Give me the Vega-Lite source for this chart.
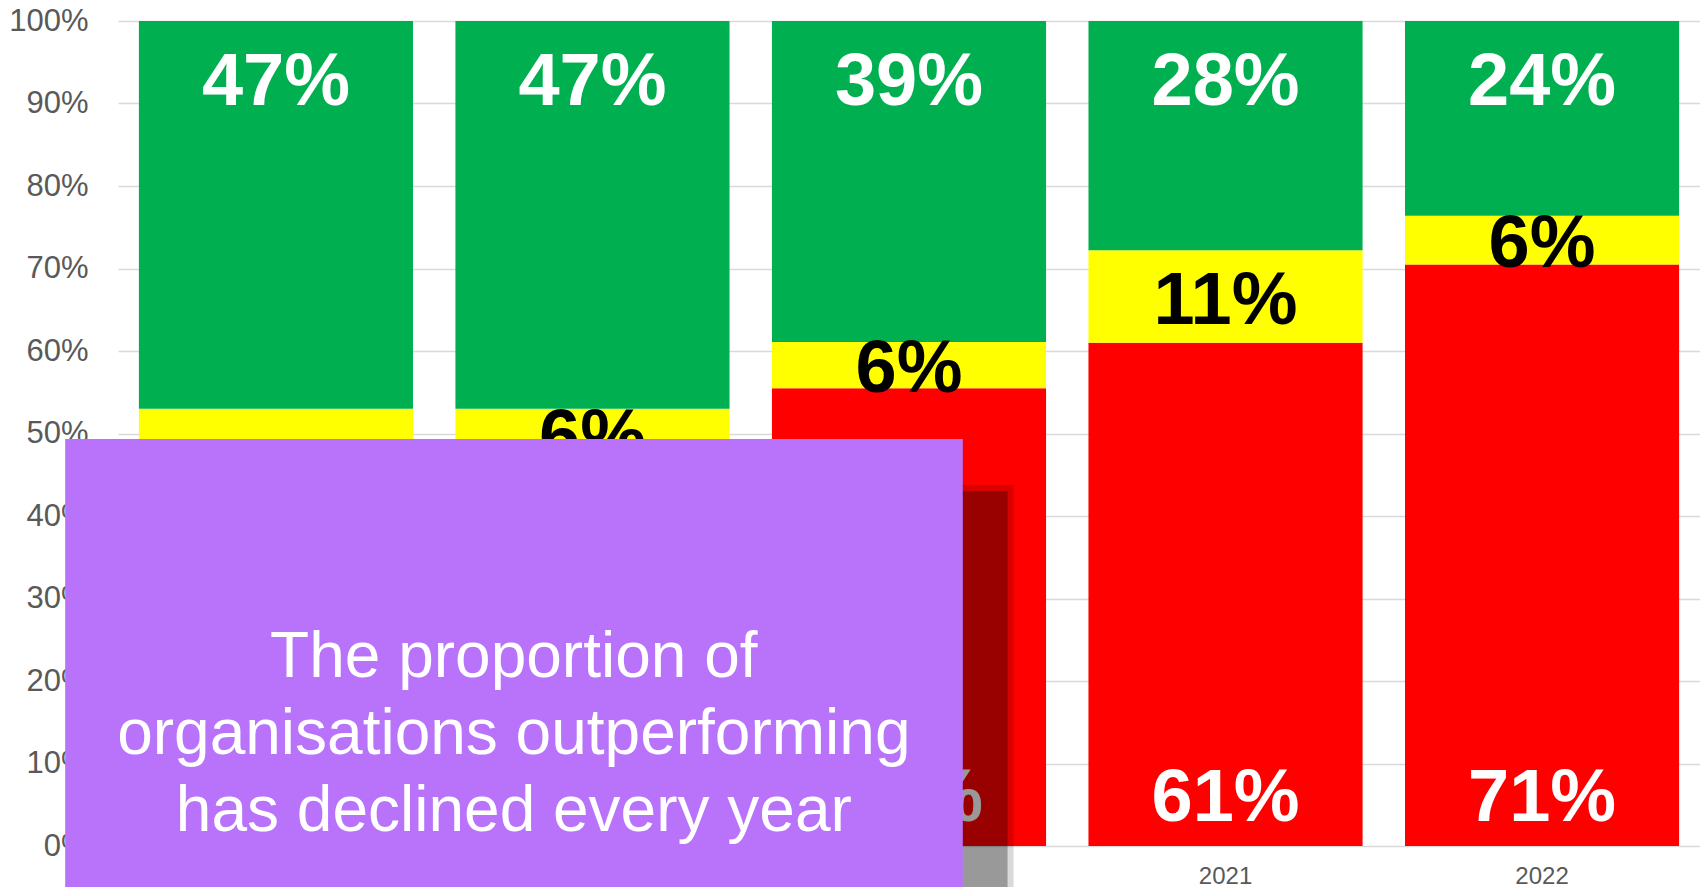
{
  "$schema": "https://vega.github.io/schema/vega-lite/v6.json",
  "autosize": {"type": "none"},
  "padding": {"left": 118, "top": 21, "right": 0, "bottom": 41},
  "width": 1582,
  "height": 825,
  "background": "white",
  "config": {
    "font": "Liberation Sans",
    "view": {"stroke": null}
  },
  "resolve": {"scale": {"x": "independent", "y": "independent"}, "axis": {"x": "independent", "y": "independent"}},
  "layer": [
    {
      "data": {
        "values": [
          {"year": "2018", "status": "Red", "order": 1, "value": 0.39, "label": "39%"},
          {"year": "2018", "status": "Yellow", "order": 2, "value": 0.14, "label": "14%"},
          {"year": "2018", "status": "Green", "order": 3, "value": 0.47, "label": "47%"},
          {"year": "2019", "status": "Red", "order": 1, "value": 0.47, "label": "47%"},
          {"year": "2019", "status": "Yellow", "order": 2, "value": 0.06, "label": "6%"},
          {"year": "2019", "status": "Green", "order": 3, "value": 0.47, "label": "47%"},
          {"year": "2020", "status": "Red", "order": 1, "value": 0.555, "label": "55%"},
          {"year": "2020", "status": "Yellow", "order": 2, "value": 0.056, "label": "6%"},
          {"year": "2020", "status": "Green", "order": 3, "value": 0.389, "label": "39%"},
          {"year": "2021", "status": "Red", "order": 1, "value": 0.61, "label": "61%"},
          {"year": "2021", "status": "Yellow", "order": 2, "value": 0.112, "label": "11%"},
          {"year": "2021", "status": "Green", "order": 3, "value": 0.278, "label": "28%"},
          {"year": "2022", "status": "Red", "order": 1, "value": 0.705, "label": "71%"},
          {"year": "2022", "status": "Yellow", "order": 2, "value": 0.059, "label": "6%"},
          {"year": "2022", "status": "Green", "order": 3, "value": 0.236, "label": "24%"}
        ]
      },
      "transform": [
        {"stack": "value", "groupby": ["year"], "sort": [{"field": "order", "order": "ascending"}], "as": ["v0", "v1"], "offset": "zero"}
      ],
      "encoding": {
        "x": {
          "field": "year", "type": "ordinal",
          "scale": {"paddingInner": 0.134, "paddingOuter": 0.066},
          "axis": {"title": null, "labelAngle": 0, "ticks": false, "domain": false, "grid": false,
                   "labelFontSize": 24, "labelColor": "#595959", "labelFont": "Liberation Sans", "labelPadding": 18}
        },
        "y": {
          "field": "v0", "type": "quantitative",
          "scale": {"domain": [0, 1], "nice": false},
          "axis": {"title": null, "values": [0, 0.1, 0.2, 0.3, 0.4, 0.5, 0.6, 0.7, 0.8, 0.9, 1], "format": ".0%",
                   "grid": true, "gridColor": "#d9d9d9", "gridWidth": 1.5, "domain": false, "ticks": false,
                   "labelFontSize": 31, "labelColor": "#595959", "labelFont": "Liberation Sans", "labelPadding": 30}
        }
      },
      "layer": [
        {
          "mark": {"type": "bar"},
          "encoding": {
            "y2": {"field": "v1"},
            "color": {"field": "status", "type": "nominal",
                      "scale": {"domain": ["Red", "Yellow", "Green"], "range": ["#ff0000", "#ffff00", "#00b050"]},
                      "legend": null}
          }
        },
        {
          "transform": [{"filter": "datum.status === 'Red'"}],
          "mark": {"type": "text", "fontSize": 74, "fontWeight": "bold", "color": "white", "align": "center", "baseline": "alphabetic", "dy": -25},
          "encoding": {"text": {"field": "label", "type": "nominal"}}
        },
        {
          "mark": {"type": "text", "fontSize": 74, "fontWeight": "bold", "color": "black", "align": "center", "baseline": "middle", "dy": 5},
          "encoding": {
            "y": {"field": "value", "type": "quantitative", "stack": "zero", "bandPosition": 0.5, "title": null,
                  "scale": {"domain": [0, 1], "nice": false}},
            "order": {"field": "order", "type": "quantitative"},
            "detail": {"field": "status", "type": "nominal"},
            "text": {"condition": {"test": "datum.status === 'Yellow'", "field": "label", "type": "nominal"}, "value": ""}
          }
        },
        {
          "transform": [{"filter": "datum.status === 'Green'"}],
          "mark": {"type": "text", "fontSize": 74, "fontWeight": "bold", "color": "white", "align": "center", "baseline": "alphabetic", "dy": 84},
          "encoding": {"y": {"field": "v1", "type": "quantitative", "title": null}, "text": {"field": "label", "type": "nominal"}}
        }
      ]
    },
    {
      "data": {"values": [{}]},
      "layer": [
        {
          "mark": {"type": "rect", "color": "black", "opacity": 0.15},
          "encoding": {
            "x": {"datum": -0.02, "type": "quantitative", "scale": {"domain": [0, 5], "nice": false}, "axis": null},
            "x2": {"datum": 2.8305},
            "y": {"datum": 0.4376, "type": "quantitative", "scale": {"domain": [0, 1], "nice": false}, "axis": null},
            "y2": {"datum": -0.06}
          }
        },
        {
          "mark": {"type": "rect", "color": "black", "opacity": 0.294},
          "encoding": {
            "x": {"datum": -0.02, "type": "quantitative"},
            "x2": {"datum": 2.8115},
            "y": {"datum": 0.4304, "type": "quantitative"},
            "y2": {"datum": -0.06}
          }
        },
        {
          "mark": {"type": "rect", "color": "#b973fb", "opacity": 1},
          "encoding": {
            "x": {"datum": -0.167, "type": "quantitative"},
            "x2": {"datum": 2.670},
            "y": {"datum": 0.4933, "type": "quantitative"},
            "y2": {"datum": -0.06}
          }
        },
        {
          "mark": {"type": "text", "text": ["The proportion of", "organisations outperforming", "has declined every year"],
                   "fontSize": 64, "lineHeight": 77, "color": "white", "align": "center", "baseline": "alphabetic", "font": "Liberation Sans"},
          "encoding": {
            "x": {"datum": 1.251, "type": "quantitative"},
            "y": {"datum": 0.2048, "type": "quantitative"}
          }
        }
      ]
    }
  ]
}
